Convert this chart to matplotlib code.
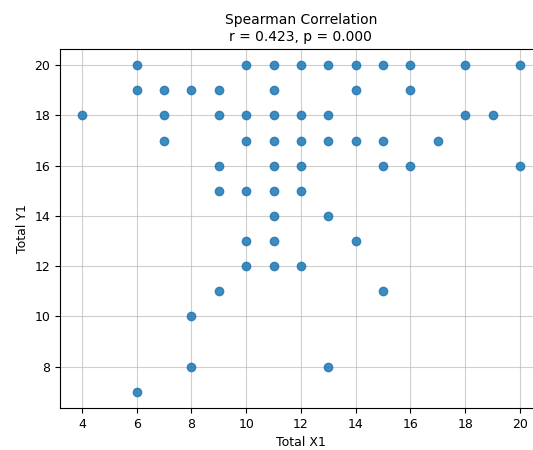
import matplotlib
matplotlib.use("Agg")
import matplotlib.pyplot as plt

# Total X1 / Total Y1 pairs
total_x1 = [6, 10, 11, 12, 13, 14, 15, 16, 18, 20,
            6, 7, 8, 9, 11, 14, 16,
            4, 7, 9, 10, 11, 12, 13, 18, 19,
            7, 10, 11, 12, 13, 14, 15, 17,
            9, 11, 12, 15, 16, 20,
            9, 10, 11, 12,
            11, 13,
            10, 11, 14,
            10, 11, 12,
            9, 15,
            8,
            8, 13,
            6]
total_y1 = [20, 20, 20, 20, 20, 20, 20, 20, 20, 20,
            19, 19, 19, 19, 19, 19, 19,
            18, 18, 18, 18, 18, 18, 18, 18, 18,
            17, 17, 17, 17, 17, 17, 17, 17,
            16, 16, 16, 16, 16, 16,
            15, 15, 15, 15,
            14, 14,
            13, 13, 13,
            12, 12, 12,
            11, 11,
            10,
            8, 8,
            7]

r_value = 0.423
p_value = 0.000

fig = plt.figure(figsize=(5.33, 4.5), dpi=100)
ax = fig.add_axes([0.1126, 0.0933, 0.904, 0.798])

ax.scatter(total_x1, total_y1, color='#1f77b4', alpha=0.85, zorder=3)

ax.set_title(f'Spearman Correlation\nr = {r_value:.3f}, p = {p_value:.3f}', fontsize=10)
ax.set_xlabel('Total X1', fontsize=9)
ax.set_ylabel('Total Y1', fontsize=9)
ax.tick_params(labelsize=9)
ax.set_xticks(range(4, 21, 2))
ax.set_yticks(range(8, 21, 2))
ax.grid(True, color='#b0b0b0', alpha=0.6)

fig.savefig('out.png', dpi=100)
